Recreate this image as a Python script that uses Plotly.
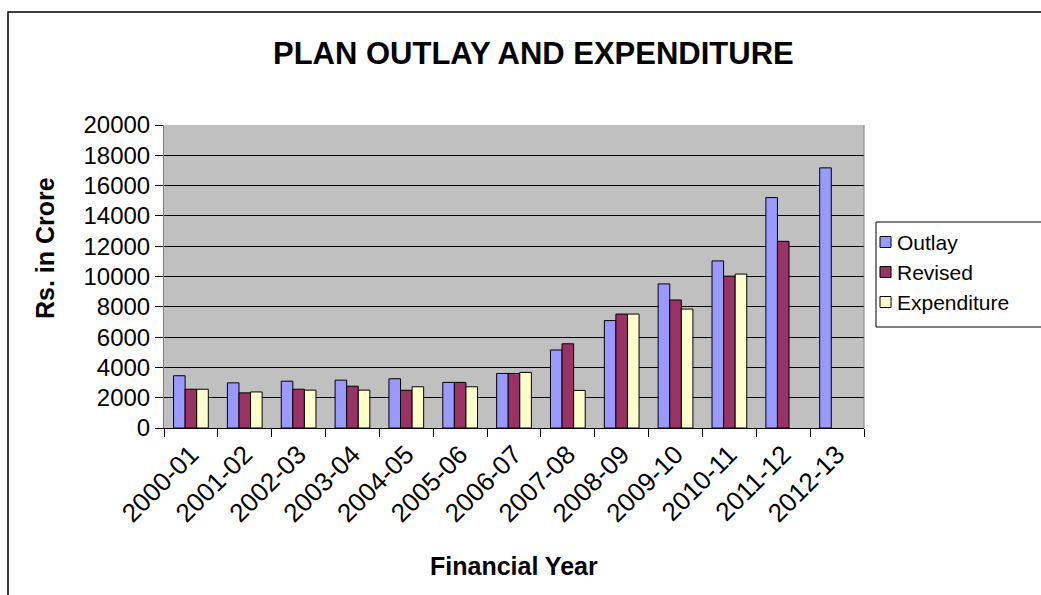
import plotly.graph_objects as go

years = ["2000-01", "2001-02", "2002-03", "2003-04", "2004-05", "2005-06", "2006-07",
         "2007-08", "2008-09", "2009-10", "2010-11", "2011-12", "2012-13"]
outlay = [3450, 2980, 3090, 3160, 3250, 3010, 3600, 5150, 7090, 9510, 11030, 15210, 17170]
revised = [2560, 2320, 2560, 2760, 2490, 3010, 3600, 5560, 7520, 8450, 10020, 12320, None]
expenditure = [2560, 2380, 2500, 2500, 2720, 2720, 3670, 2480, 7520, 7850, 10160, None, None]

series = [("Outlay", outlay, "#9999FF"),
          ("Revised", revised, "#993366"),
          ("Expenditure", expenditure, "#FFFFCC")]

W, H = 1041, 595
L, R, T, B = 164, 864, 125, 428   # plot area in pixels

def px(x):
    return (x - L) / (R - L)

def py(y):
    return (B - y) / (B - T)

font = "Liberation Sans, Arial, sans-serif"

fig = go.Figure()
for name, vals, col in series:
    fig.add_trace(go.Bar(x=years, y=vals, name=name,
                         marker=dict(color=col, line=dict(color="black", width=1))))

annotations = [
    dict(text="<b>PLAN OUTLAY AND EXPENDITURE</b>", x=px(533), y=py(54),
         xref="paper", yref="paper", showarrow=False,
         font=dict(size=31, family=font), xanchor="center", yanchor="middle"),
    dict(text="<b>Rs. in Crore</b>", x=px(45), y=py(248), textangle=-90,
         xref="paper", yref="paper", showarrow=False,
         font=dict(size=25, family=font), xanchor="center", yanchor="middle"),
    dict(text="<b>Financial Year</b>", x=px(514), y=py(566),
         xref="paper", yref="paper", showarrow=False,
         font=dict(size=25, family=font), xanchor="center", yanchor="middle"),
]

shapes = [
    # outer chart frame
    dict(type="rect", xref="paper", yref="paper",
         x0=px(8), x1=px(1100), y0=py(700), y1=py(12),
         line=dict(color="black", width=1.5), fillcolor="rgba(0,0,0,0)", layer="below"),
    # right border of the plot area
    dict(type="line", xref="paper", yref="paper", x0=1, x1=1, y0=0, y1=1,
         line=dict(color="#808080", width=1)),
    # legend box
    dict(type="rect", xref="paper", yref="paper",
         x0=px(876), x1=px(1060), y0=py(327), y1=py(222),
         line=dict(color="black", width=1), fillcolor="white"),
]

# legend entries: swatch + label
for i, (name, _, col) in enumerate(series):
    yc = 242 + 30 * i
    shapes.append(dict(type="rect", xref="paper", yref="paper",
                       x0=px(880), x1=px(891), y0=py(yc + 5.5), y1=py(yc - 5.5),
                       line=dict(color="black", width=1), fillcolor=col))
    annotations.append(dict(text=name, x=px(895), y=py(yc), xref="paper", yref="paper",
                            showarrow=False, xanchor="left", yanchor="middle",
                            font=dict(size=21, family=font)))

fig.update_layout(
    width=W, height=H,
    margin=dict(l=L, r=W - R, t=T, b=H - B, pad=0),
    paper_bgcolor="white", plot_bgcolor="#C0C0C0",
    barmode="group", bargap=0.355, bargroupgap=0,
    font=dict(family=font, color="black"),
    showlegend=False,
    xaxis=dict(type="category", tickangle=-45, tickfont=dict(size=26),
               ticks="outside", ticklen=8, tickcolor="black", tickson="boundaries",
               showline=True, linecolor="black", linewidth=1, showgrid=False),
    yaxis=dict(range=[0, 20000], dtick=2000, tickformat="d", tickfont=dict(size=24),
               ticks="outside", ticklen=8, tickcolor="black",
               showline=True, linecolor="#808080", linewidth=1,
               showgrid=True, gridcolor="black", gridwidth=1, zeroline=False),
    annotations=annotations,
    shapes=shapes,
)

fig.write_html("out.html")
